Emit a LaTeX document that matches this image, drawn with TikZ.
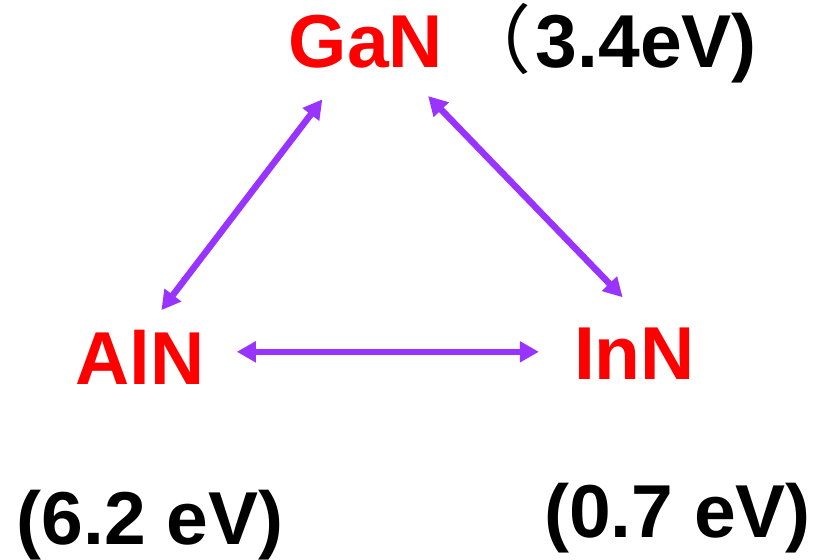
\documentclass[tikz,border=0pt]{standalone}
\usepackage{fontspec}
\setmainfont{Liberation Sans}
\newfontfamily\cjk{Noto Sans CJK SC}
\usepackage{tikz}
\usetikzlibrary{arrows.meta,calc}
\definecolor{gred}{HTML}{FF0000}
\definecolor{gpurple}{HTML}{9933FF}
\tikzset{gcomp/.style={inner sep=0pt, anchor=base, text=gred, font=\fontsize{75}{90}\selectfont\bfseries}}
\tikzset{ggap/.style={inner sep=0pt, anchor=base, text=black, font=\fontsize{75}{90}\selectfont\bfseries}}
\tikzset{gedge/.style={{Triangle[length=19pt, width=20pt]}-{Triangle[length=19pt, width=20pt]}, draw=gpurple, line width=6.5pt}}

\begin{document}
\begin{tikzpicture}[x=1pt, y=1pt]
  \useasboundingbox (0,0) rectangle (818,559);

  \node[gcomp] (gan) at (366,491) {GaN};
  \node[gcomp] (aln) at (140,174) {AlN};
  \node[gcomp] (inn) at (634.5,179) {InN};

  \node[ggap, anchor=base east] (gangap) at (757,491) {{\cjk\mdseries （}\hspace{4pt}3.4eV)};
  \node[ggap] (alngap) at (150,15) {(6.2 eV)};
  \node[ggap] (inngap) at (677.5,22) {(0.7 eV)};

  \draw[gedge, shorten <=60pt, shorten >=72pt] ([xshift=-15pt]aln.center) -- (gan.center);
  \draw[gedge, shorten <=75pt, shorten >=43pt] ([xshift=10pt]gan.center) -- ([xshift=18pt]inn.north);
  \draw[gedge, shorten <=32pt, shorten >=35pt] ([yshift=6pt]aln.east) -- ([yshift=6pt]aln.east -| inn.west);
\end{tikzpicture}
\end{document}
